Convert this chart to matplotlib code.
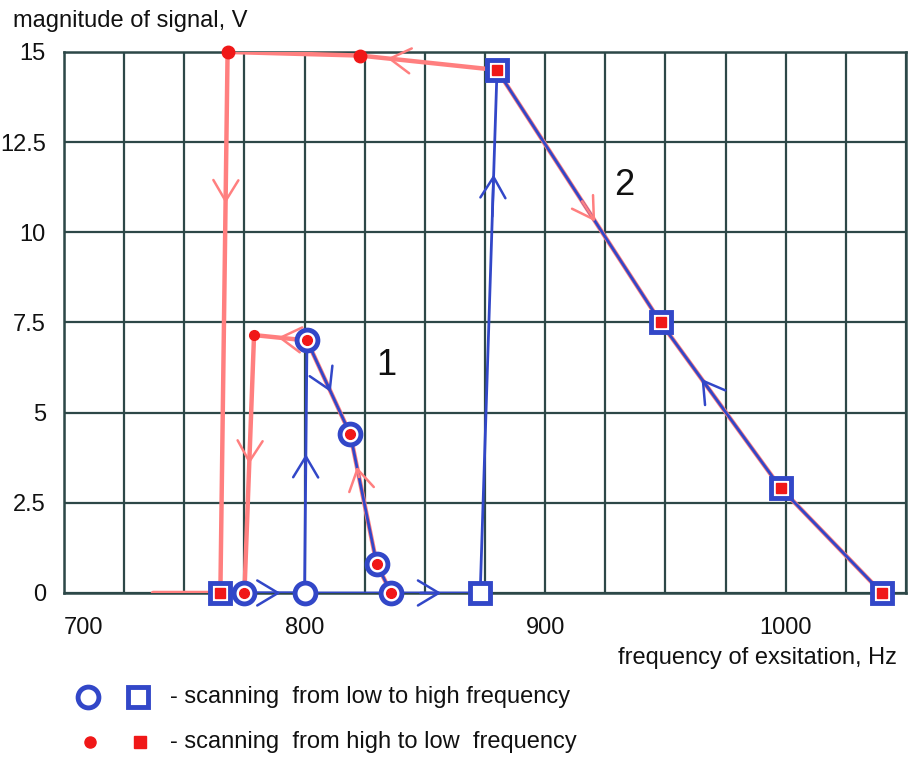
import matplotlib
matplotlib.use('Agg')
import matplotlib.pyplot as plt
from matplotlib.lines import Line2D

plt.rcParams['font.family'] = ['Liberation Sans', 'DejaVu Sans']

# experiment 1 (curve "1")
exp1_up_f = [775, 800, 801, 819, 830, 836]
exp1_up_v = [0, 0, 7.0, 4.4, 0.8, 0]
exp1_down_f = [836, 830, 819, 801, 779, 775]
exp1_down_v = [0, 0.8, 4.4, 7.0, 7.15, 0]

# experiment 2 (curve "2")
exp2_up_f = [765, 873, 880, 948, 998, 1040]
exp2_up_v = [0, 0, 14.5, 7.5, 2.9, 0]
exp2_down_f = [1040, 998, 948, 880, 823, 768, 765, 737]
exp2_down_v = [0, 2.9, 7.5, 14.5, 14.9, 15.0, 0, 0]

x_labels = {700: '700', 800: '800', 900: '900', 1000: '1000'}
y_ticks = [0, 2.5, 5, 7.5, 10, 12.5, 15]

blue = '#3247c8'
red = '#f01818'
pink = '#ff7f7f'
grid_c = '#2d4848'
txt = '#111111'

fig = plt.figure(figsize=(9.09, 7.74), dpi=100)
ax = fig.add_axes([0.0704, 0.2339, 0.9263, 0.699])

# lines
ax.plot(exp1_down_f, exp1_down_v, color=pink, lw=3.2, zorder=3, solid_capstyle='round')
ax.plot(exp2_down_f, exp2_down_v, color=pink, lw=3.2, zorder=3, solid_capstyle='round')
ax.plot(exp1_up_f, exp1_up_v, color=blue, lw=2, zorder=4)
ax.plot(exp2_up_f, exp2_up_v, color=blue, lw=2, zorder=4)

# markers
ax.plot(exp1_up_f, exp1_up_v, 'o', ms=15, mew=3.5, mec=blue, mfc='white', zorder=5, clip_on=False)
ax.plot(exp2_up_f, exp2_up_v, 's', ms=15, mew=3.5, mec=blue, mfc='white', zorder=5, clip_on=False)
ax.plot(exp1_down_f, exp1_down_v, 'o', ms=7, color=red, zorder=6, clip_on=False)
ax.plot(exp2_down_f[:4] + exp2_down_f[6:7], exp2_down_v[:4] + exp2_down_v[6:7], 's',
        ms=7, color=red, zorder=6, clip_on=False)
ax.plot(exp2_down_f[4:6], exp2_down_v[4:6], 'o', ms=9, color=red, zorder=6, clip_on=False)


def arrow_on(f, v, i, frac, color):
    x0 = f[i] + (f[i + 1] - f[i]) * (frac - 0.08)
    y0 = v[i] + (v[i + 1] - v[i]) * (frac - 0.08)
    x1 = f[i] + (f[i + 1] - f[i]) * frac
    y1 = v[i] + (v[i + 1] - v[i]) * frac
    ax.annotate('', xy=(x1, y1), xytext=(x0, y0),
                arrowprops=dict(arrowstyle='->,head_length=0.75,head_width=0.45',
                                color=color, lw=1.8, shrinkA=0, shrinkB=0,
                                mutation_scale=20), zorder=7)


# direction arrows
arrow_on(exp1_up_f, exp1_up_v, 0, 0.6, blue)
arrow_on(exp1_up_f, exp1_up_v, 1, 0.55, blue)
arrow_on(exp1_up_f, exp1_up_v, 2, 0.55, blue)
arrow_on(exp1_down_f, exp1_down_v, 1, 0.75, pink)
arrow_on(exp1_down_f, exp1_down_v, 3, 0.55, pink)
arrow_on(exp1_down_f, exp1_down_v, 4, 0.5, pink)
arrow_on(exp2_up_f, exp2_up_v, 0, 0.85, blue)
arrow_on(exp2_up_f, exp2_up_v, 1, 0.8, blue)
arrow_on(exp2_down_f, exp2_down_v, 1, 0.66, blue)
arrow_on(exp2_up_f, exp2_up_v, 2, 0.6, pink)
arrow_on(exp2_down_f, exp2_down_v, 3, 0.8, pink)
arrow_on(exp2_down_f, exp2_down_v, 5, 0.28, pink)

ax.text(834, 6.3, '1', fontsize=26, ha='center', va='center', color=txt)
ax.text(933, 11.3, '2', fontsize=26, ha='center', va='center', color=txt)

# axes / grid
ax.set_xlim(700, 1050)
ax.set_ylim(0, 15)
xt = list(range(700, 1051, 25))
ax.set_xticks(xt)
ax.set_xticklabels([x_labels.get(t, '') for t in xt])
ax.set_yticks(y_ticks)
ax.set_yticklabels(['0', '2.5', '5', '7.5', '10', '12.5', '15'])
ax.tick_params(axis='both', length=0, labelsize=17, colors=txt)
ax.tick_params(axis='x', pad=17)
ax.tick_params(axis='y', pad=13)
ax.get_xticklabels()[0].set_ha('left')
ax.grid(True, color=grid_c, lw=1.6)
ax.set_axisbelow(True)
for s in ax.spines.values():
    s.set_color(grid_c)
    s.set_linewidth(1.8)

ax.text(0.989, -0.12, 'frequency of exsitation, Hz', transform=ax.transAxes,
        ha='right', va='center', fontsize=17, color=txt)
fig.text(13 / 909, 1 - 21 / 774, 'magnitude of signal, V', ha='left', va='center',
         fontsize=17, color=txt)

# legend drawn by hand
for px, py, mk, ms, mew, mec, mfc in [(88, 697, 'o', 15, 3.5, blue, 'white'),
                                      (138, 697, 's', 15, 3.5, blue, 'white'),
                                      (90, 742, 'o', 8, 1, red, red),
                                      (140, 742, 's', 8, 1, red, red)]:
    fig.add_artist(Line2D([px / 909], [1 - py / 774], transform=fig.transFigure,
                          marker=mk, ms=ms, mew=mew, mec=mec, mfc=mfc, ls='none'))
fig.text(170 / 909, 1 - 697 / 774, '- scanning  from low to high frequency',
         ha='left', va='center', fontsize=17, color=txt)
fig.text(170 / 909, 1 - 742 / 774, '- scanning  from high to low  frequency',
         ha='left', va='center', fontsize=17, color=txt)

fig.savefig('out.png', dpi=100, facecolor='white')
